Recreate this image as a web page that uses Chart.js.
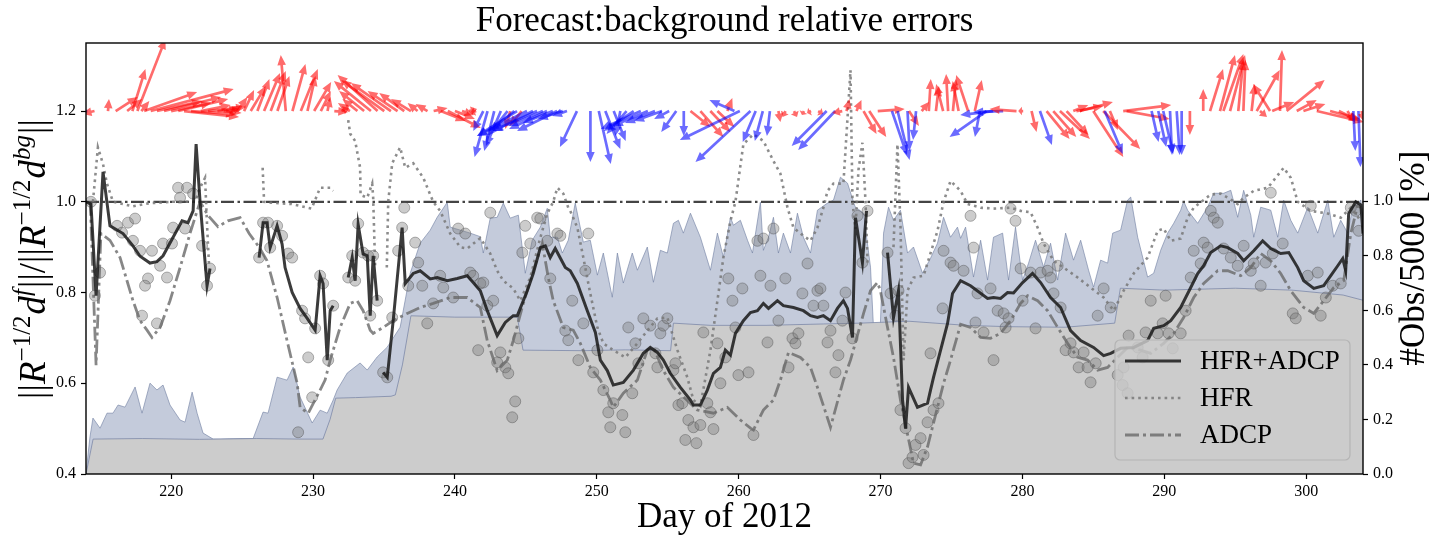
<!DOCTYPE html>
<html>
<head>
<meta charset="utf-8">
<title>Forecast:background relative errors</title>
<script src="https://cdn.jsdelivr.net/npm/chart.js@4.4.1/dist/chart.umd.min.js"></script>
<style>
  html, body { margin: 0; padding: 0; background: #fff; }
  canvas { display: block; }
</style>
</head>
<body>
<canvas id="errChart" width="1429" height="537"></canvas>
<script>
// ---- axes / ticks ----
const dayTicks = [220, 230, 240, 250, 260, 270, 280, 290, 300];
const errTicks = [0.4, 0.6, 0.8, 1.0, 1.2];
const obsTicks = [0.0, 0.2, 0.4, 0.6, 0.8, 1.0];
const refLevel = 1.0;     // forecast == background
const quiverLevel = 1.2;  // baseline of the current arrows

// ---- relative error, HFR+ADCP (null = no analysis) ----
const comboDay = [214.0,214.35,214.71,215.2,215.69,216.61,217.31,217.81,218.51,219.0,219.43,220.14,220.77,221.19,221.55,221.76,222.04,222.53,222.74,224.5,
  226.2,226.48,226.76,226.98,227.47,227.82,228.03,228.53,229.09,229.59,230.15,230.5,230.71,231.0,231.21,231.42,231.9,
  232.48,232.76,232.97,233.18,233.53,233.82,234.03,234.24,234.52,234.7,
  234.94,235.23,235.65,236.28,236.5,237.06,237.55,238.26,238.75,239.46,240.16,240.87,241.29,241.79,242.28,242.98,243.55,244.11,244.4,245.1,245.52,246.02,246.37,246.72,247.07,247.78,248.13,248.63,249.33,249.9,250.25,250.74,251.16,251.87,252.58,253.28,253.77,254.27,254.69,255.18,255.89,256.6,256.81,257.3,257.79,258.22,258.71,259.06,259.42,259.77,260.33,260.83,261.32,261.74,262.1,262.73,263.15,263.86,264.56,265.06,265.55,265.97,266.47,266.96,267.38,267.67,268.02,268.23,268.72,269.01,269.8,
  270.49,270.91,271.26,271.55,271.76,271.97,272.6,273.31,273.52,273.73,274.23,274.72,275.07,275.64,276.34,277.54,277.96,278.46,278.95,279.37,280.01,280.71,281.28,281.98,282.69,283.39,284.1,285.01,285.72,286.22,286.92,287.84,288.82,289.25,289.95,290.45,291.15,291.86,292.35,292.77,293.27,293.97,294.47,295.17,295.59,296.3,296.93,297.5,298.2,298.77,299.4,299.82,300.53,301.23,301.73,302.22,302.57,302.78,302.99,303.49,303.85,304.0];
const comboErr = [1.0,0.995,0.793,1.066,0.947,0.93,0.903,0.88,0.865,0.868,0.881,0.922,0.958,0.954,0.98,1.127,1.0,0.815,0.853,null,
  0.877,0.954,0.954,0.899,0.947,0.907,0.855,0.8,0.765,0.743,0.717,0.837,0.82,0.651,0.76,0.771,null,
  0.833,0.877,0.826,0.95,0.885,0.881,0.749,0.881,0.782,null,
  0.624,0.613,0.738,0.943,0.82,0.842,0.848,0.83,0.833,0.826,0.831,0.837,0.822,0.804,0.76,0.705,0.734,0.749,0.749,0.804,0.842,0.899,0.903,0.877,0.897,0.855,0.848,0.82,0.76,0.712,0.651,0.628,0.596,0.602,0.629,0.666,0.679,0.668,0.651,0.622,0.591,0.563,0.552,0.552,0.585,0.622,0.635,0.673,0.662,0.71,0.738,0.756,0.76,0.776,0.765,0.782,0.771,0.767,0.76,0.749,0.745,0.749,0.738,0.765,0.782,0.765,0.701,0.965,0.866,0.98,null,
  0.888,0.745,0.804,0.563,0.5,0.591,0.547,0.556,0.585,0.613,0.673,0.732,0.798,0.826,0.815,0.787,0.789,0.787,0.8,0.799,0.822,0.842,0.822,0.789,0.767,0.716,0.694,0.679,0.661,0.666,0.677,0.679,0.694,0.721,0.727,0.738,0.767,0.811,0.842,0.859,0.888,0.903,0.899,0.886,0.87,0.892,0.914,0.897,0.886,0.888,0.855,0.826,0.809,0.815,0.837,0.859,0.875,0.848,0.974,1.0,0.993,0.93];

// ---- relative error, HFR only ----
const hfrDay = [214.49,214.84,215.2,215.48,215.9,216.61,217.31,218.5,220.14,221.69,222.04,222.39,222.53,222.67,224.0,
  226.45,226.55,227.0,228.5,229.9,230.5,231.21,231.42,232.0,
  232.48,232.62,232.97,233.32,233.35,233.82,234.17,234.24,234.38,234.8,
  235.2,235.3,235.58,236.14,236.5,237.06,237.77,238.47,238.96,239.67,240.38,240.87,241.79,242.49,242.98,243.41,244.11,244.61,245.31,246.02,246.51,246.93,247.22,247.64,247.99,248.13,248.63,249.05,249.54,250.04,250.46,251.16,252.01,252.86,253.56,254.27,254.97,255.68,256.38,256.81,257.3,258.01,258.5,258.92,259.42,259.77,260.33,261.04,261.74,262.45,262.94,263.44,263.86,264.56,265.06,265.55,265.97,266.26,266.68,267.38,267.88,268.02,268.23,268.44,268.72,268.94,269.08,270.0,
  270.91,271.19,271.4,271.62,271.9,272.32,273.03,274.01,274.44,274.93,275.64,276.13,277.05,277.96,279.16,279.87,280.57,281.07,281.49,282.19,282.9,283.89,284.8,285.72,286.43,287.13,287.84,288.82,289.53,289.95,290.45,291.15,291.64,292.07,293.27,293.97,294.47,295.17,295.59,296.3,297.29,298.41,298.91,299.4,300.32,301.52,302.43,303.14,303.85];
const hfrErr = [1.0,1.12,1.083,1.04,1.0,0.995,0.99,0.997,1.0,1.0,1.031,1.053,0.95,0.86,null,
  1.075,1.0,0.998,0.995,0.985,1.031,1.031,1.024,null,
  1.18,1.15,1.134,1.075,1.015,1.009,1.04,1.009,0.855,null,
  0.855,1.0,1.085,1.12,1.075,1.085,1.053,1.0,0.98,0.93,0.9,0.897,0.92,0.886,0.848,0.826,0.809,0.782,0.833,0.921,0.974,1.0,1.031,1.018,0.987,0.98,0.943,0.877,0.798,0.723,0.688,0.673,0.657,0.688,0.716,0.743,0.745,0.673,0.613,0.563,0.55,0.673,0.782,0.877,0.958,1.0,1.127,1.149,1.134,1.09,1.062,0.987,0.943,0.925,0.914,0.943,0.987,1.024,1.04,1.04,1.29,1.0,0.94,1.07,1.13,1.0,0.866,null,
  0.9,1.127,0.95,0.651,0.804,0.833,0.837,0.936,1.0,1.046,1.024,0.995,0.987,0.985,0.987,0.98,0.977,0.943,0.908,0.87,0.855,0.833,0.811,0.789,0.76,0.804,0.842,0.877,0.936,0.941,0.914,0.919,0.965,0.987,1.016,1.018,1.009,0.995,1.009,1.024,1.031,1.075,1.053,1.0,0.98,0.974,0.965,0.987,0.958];

// ---- relative error, ADCP only ----
const adcpDay = [214.3,214.71,215.05,215.69,216.4,216.89,217.31,217.81,218.3,218.65,219.22,219.92,220.63,221.33,221.83,222.04,222.6,223.3,224.0,224.86,225.5,226.2,226.76,227.47,228.17,228.88,229.09,229.66,230.5,230.85,231.21,231.91,232.62,233.11,233.53,234.03,234.24,234.94,235.65,236.64,237.55,238.47,239.67,240.87,241.79,242.28,242.98,243.69,244.11,244.82,245.52,246.16,246.58,246.93,247.64,248.34,248.84,249.54,250.25,250.95,251.16,251.87,252.86,253.56,253.99,254.69,255.4,257.09,258.22,259.2,260.12,260.83,261.04,261.74,262.45,262.94,263.51,264.35,265.06,265.55,266.47,267.38,267.88,268.8,269.29,269.78,269.99,270.49,270.91,271.4,272.32,272.82,273.31,274.01,274.44,274.93,275.64,276.34,277.05,277.75,278.46,279.16,279.87,280.36,281.07,281.77,282.48,283.18,283.89,284.59,285.3,286.0,286.71,287.41,288.33,289.04,289.95,290.66,291.36,292.07,292.77,293.76,294.47,295.38,296.09,296.79,297.5,298.2,298.91,299.82,300.53,301.23,301.94,302.64,303.14,303.63,303.85];
const adcpErr = [1.0,0.64,0.93,0.915,0.877,0.826,0.782,0.738,0.717,0.701,0.723,0.782,0.855,0.93,0.98,1.0,0.97,0.945,0.958,0.965,0.93,0.9,0.87,0.789,0.694,0.6,0.547,0.534,0.585,0.607,0.651,0.723,0.776,0.782,0.76,0.717,0.71,0.723,0.738,0.754,0.767,0.776,0.789,0.789,0.767,0.694,0.628,0.651,0.694,0.776,0.848,0.908,0.833,0.782,0.723,0.717,0.688,0.635,0.607,0.563,0.547,0.578,0.607,0.673,0.679,0.628,0.591,0.541,0.534,0.547,0.519,0.501,0.497,0.541,0.563,0.607,0.668,0.657,0.635,0.591,0.503,0.607,0.651,0.754,0.804,0.822,0.804,0.723,0.657,0.563,0.424,0.42,0.46,0.547,0.6,0.651,0.73,0.723,0.701,0.699,0.71,0.738,0.776,0.793,0.782,0.76,0.723,0.688,0.657,0.651,0.629,0.635,0.657,0.679,0.673,0.666,0.688,0.71,0.745,0.789,0.82,0.848,0.848,0.837,0.855,0.886,0.87,0.842,0.804,0.767,0.754,0.782,0.811,0.826,0.93,0.993,0.987];

// ---- individual analysis cycles (scatter) ----
const dotDay = [214.35,214.63,214.99,216.19,216.54,216.96,217.46,217.31,217.81,218.65,219.22,219.43,220.06,220.14,220.98,218.37,218.16,219.71,217.95,219.0,222.18,222.53,222.74,220.49,221.12,220.63,221.55,
  226.2,226.48,226.83,226.98,227.47,227.82,228.25,228.53,229.23,229.44,229.66,230.15,230.5,230.71,231.07,231.42,228.95,229.94,
  232.48,232.76,232.97,233.18,233.53,233.89,234.03,234.24,234.52,234.94,235.23,235.58,236.0,236.28,236.43,237.2,237.41,236.71,237.7,238.05,238.47,238.96,239.18,239.88,240.23,240.73,241.08,241.29,241.79,241.64,
  242.49,242.0,242.7,242.28,244.96,245.31,244.75,245.8,246.02,247.22,247.43,246.72,246.51,248.27,249.19,249.4,249.05,247.78,247.99,244.47,243.2,242.98,243.55,243.76,248.7,249.75,250.04,250.46,
  252.22,252.72,253.28,253.77,254.48,254.69,254.97,254.13,252.93,254.27,255.4,255.54,257.51,258.5,259.06,259.98,260.69,258.71,259.27,259.56,260.26,259.77,261.32,261.74,261.53,262.24,263.29,262.45,262.03,262.8,263.51,263.79,264.0,264.21,264.49,264.85,265.27,265.55,265.76,265.97,266.26,266.47,267.03,266.82,267.31,267.53,268.02,268.37,269.08,268.72,
  270.49,270.7,271.05,271.26,273.52,274.44,274.93,275.14,274.37,
  244.04,244.25,250.81,251.16,251.8,250.95,252.01,252.5,255.75,256.03,256.45,256.81,257.3,256.24,257.02,257.79,258.01,258.22,261.04,
  271.4,271.76,271.97,272.25,272.46,272.82,273.03,273.31,273.73,274.08,
  276.34,276.55,275.85,276.83,277.75,278.25,278.67,279.02,276.69,277.26,277.96,278.81,279.51,279.87,280.01,280.57,280.92,281.28,281.49,281.77,281.98,282.19,282.48,282.69,283.04,283.39,283.6,283.96,284.31,284.59,284.8,285.16,285.3,285.72,286.22,286.71,287.06,287.41,287.13,287.48,288.12,288.47,288.68,289.04,289.53,289.88,290.09,290.3,290.59,291.15,291.5,291.86,292.07,292.56,292.77,293.05,293.27,293.48,293.76,294.18,294.68,295.17,295.59,296.09,296.3,296.79,297.14,297.64,298.34,299.05,299.26,300.11,300.81,301.02,301.38,301.87,302.43,300.32,303.14,303.49,303.7,279.16,297.5];
const dotErr = [1.0,0.793,0.844,0.947,0.932,0.954,0.963,0.914,0.892,0.892,0.859,0.908,0.908,0.943,0.941,0.831,0.815,0.833,0.749,0.732,0.903,0.815,0.853,1.031,1.031,1.009,1.018,
  0.877,0.954,0.954,0.899,0.947,0.925,0.886,0.877,0.76,0.743,0.657,0.721,0.837,0.82,0.651,0.771,0.492,0.569,
  0.833,0.881,0.826,0.952,0.888,0.881,0.749,0.881,0.782,0.624,0.613,0.745,0.892,0.943,0.987,0.91,0.866,0.815,0.815,0.732,0.776,0.837,0.811,0.789,0.941,0.93,0.844,0.837,0.82,0.673,
  0.976,0.822,0.782,0.771,0.947,0.908,0.888,0.965,0.963,0.93,0.925,0.831,0.914,0.782,0.848,0.93,0.732,0.716,0.695,0.699,0.668,0.646,0.635,0.622,0.651,0.624,0.673,0.585,
  0.723,0.688,0.743,0.727,0.71,0.727,0.743,0.666,0.644,0.635,0.629,0.644,0.712,0.688,0.657,0.618,0.624,0.6,0.831,0.782,0.809,0.723,0.914,0.919,0.837,0.815,0.831,0.941,0.69,0.738,0.635,0.699,0.688,0.71,0.798,0.864,0.771,0.804,0.809,0.771,0.69,0.716,0.662,0.624,0.738,0.8,0.699,0.969,0.98,0.866,
  0.888,0.798,0.749,0.804,0.666,0.892,0.866,0.859,0.765,
  0.525,0.56,0.536,0.556,0.53,0.503,0.492,0.578,0.552,0.556,0.519,0.503,0.508,0.475,0.468,0.556,0.536,0.499,0.486,
  0.541,0.501,0.424,0.437,0.464,0.479,0.442,0.514,0.541,0.556,
  0.969,0.899,0.848,0.798,0.809,0.76,0.754,0.743,0.734,0.712,0.651,0.723,0.958,0.853,0.782,0.844,0.721,0.844,0.899,0.848,0.833,0.798,0.859,0.767,0.673,0.688,0.668,0.635,0.668,0.635,0.602,0.644,0.749,0.809,0.767,0.618,0.596,0.578,0.635,0.705,0.679,0.657,0.712,0.782,0.71,0.732,0.793,0.71,0.677,0.71,0.76,0.833,0.892,0.864,0.91,0.899,0.98,0.965,0.954,0.897,0.877,0.859,0.903,0.848,0.864,0.815,0.866,0.886,0.908,0.754,0.743,0.837,0.844,0.749,0.789,0.815,0.82,0.991,0.987,0.98,0.936,0.985,1.02];

// ---- number of observations / 5000 (right axis) ----
const obsAllDay = [214.0,214.28,214.49,214.99,215.48,215.9,216.26,216.75,217.46,217.95,218.51,219.0,219.43,219.92,220.63,220.98,221.48,221.83,222.25,222.96,223.5,225.0,225.78,226.48,226.83,227.47,228.17,228.6,229.09,229.94,230.5,231.0,231.42,231.7,232.41,233.32,233.82,234.52,235.23,236.14,236.85,237.55,238.26,238.75,239.46,239.67,240.38,241.08,241.79,242.0,242.49,242.98,243.41,243.9,244.47,244.96,245.45,246.02,246.51,246.72,247.22,247.57,247.99,248.48,249.05,249.54,250.04,250.46,251.09,251.45,251.87,252.5,252.86,253.56,253.99,254.48,254.97,255.4,255.75,256.1,256.6,257.3,258.01,258.5,258.92,259.42,259.63,260.12,260.62,260.97,261.53,261.74,262.1,262.45,262.8,263.15,263.65,264.14,264.56,265.06,265.55,266.26,266.68,267.17,267.67,268.2,268.8,269.29,269.5,269.99,270.21,270.56,270.91,271.4,271.9,272.32,272.96,273.52,274.01,274.44,274.93,275.42,275.64,275.99,276.55,277.05,277.54,277.96,278.6,279.02,279.51,280.01,280.43,280.92,281.49,281.98,282.48,283.04,283.6,284.1,284.66,285.01,285.51,286.0,286.36,286.92,287.41,287.63,288.12,288.82,289.25,289.74,290.23,290.66,291.15,291.36,291.64,292.35,293.05,293.48,294.18,294.68,295.17,295.59,296.09,296.3,296.79,297.5,297.99,298.41,298.91,299.4,300.11,300.81,301.52,301.94,302.43,302.92,303.28,303.85,304.0];
const obsAll = [0.004,0.136,0.205,0.168,0.223,0.223,0.253,0.245,0.319,0.223,0.333,0.308,0.326,0.253,0.198,0.19,0.3,0.223,0.15,0.128,0.128,0.13,0.13,0.227,0.223,0.355,0.344,0.392,0.282,0.187,0.234,0.223,0.271,0.308,0.37,0.407,0.381,0.429,0.465,0.538,0.736,0.846,0.894,0.941,0.996,0.905,0.894,0.883,0.87,0.81,0.938,0.941,0.993,0.938,0.949,0.736,0.857,0.905,0.974,0.868,0.868,0.81,0.857,0.993,0.85,0.857,0.729,0.81,0.648,0.81,0.7,0.81,0.747,0.832,0.703,0.82,0.81,0.919,0.93,0.883,0.956,0.868,0.747,0.883,0.795,0.941,0.912,0.93,0.857,0.81,0.996,0.82,0.868,0.941,0.81,0.883,0.81,0.956,0.868,0.81,0.967,0.993,1.004,1.088,1.066,0.98,0.956,0.758,0.538,0.553,0.883,0.978,0.93,0.967,0.81,0.832,0.736,0.791,0.846,0.941,0.868,0.905,0.864,0.905,0.722,0.857,0.711,0.868,0.883,0.711,0.905,0.711,0.773,0.857,0.758,0.846,0.711,0.883,0.784,0.857,0.747,0.685,0.784,0.773,0.883,0.894,1.004,1.015,0.868,0.722,0.736,0.82,0.883,0.919,0.967,1.0,0.967,0.919,0.978,1.029,1.029,1.04,0.941,1.04,0.949,0.868,0.978,0.967,0.868,1.004,0.93,0.883,0.978,0.883,1.004,0.868,0.93,0.883,0.978,1.004,0.905];
const obsLowDay = [214.0,214.5,218.0,222.0,226.0,229.0,230.7,231.2,231.6,233.0,235.5,235.8,236.3,236.9,240.0,244.4,244.8,249.0,252.0,255.2,255.4,258.0,262.0,266.0,268.5,272.0,276.0,279.0,283.0,286.5,286.9,290.0,295.0,299.0,302.6,304.0];
const obsLow = [0.0,0.128,0.13,0.127,0.13,0.128,0.128,0.2,0.278,0.28,0.285,0.29,0.4,0.58,0.575,0.575,0.454,0.452,0.455,0.452,0.553,0.545,0.545,0.55,0.553,0.56,0.545,0.54,0.538,0.553,0.681,0.674,0.681,0.674,0.656,0.637];

// ---- surface current arrows (u east, v north; group a/b) ----
const arrowDay = [214.1,214.6,215.55,216.09,216.9,217.27,217.62,217.9,218.1,218.56,219.0,219.5,220.0,220.5,220.91,221.4,222.09,222.6,223.26,223.7,224.2,224.67,225.14,225.61,226.08,226.55,227.02,227.49,228.08,228.55,229.14,229.61,230.08,230.55,231.02,231.5,232.0,232.6,233.13,233.6,234.08,234.55,235.02,235.49,235.96,236.43,236.9,237.37,238.07,238.5,239.0,239.5,240.0,240.5,241.0,241.5,
  242.0,242.3,242.77,243.24,243.71,243.9,244.18,244.38,244.7,245.08,245.5,245.79,246.2,246.49,246.9,247.2,247.6,247.9,248.6,249.55,250.14,250.6,251.19,251.66,252.1,252.6,253.1,253.6,254.1,254.6,255.1,255.6,256.13,256.6,257.3,258.0,258.5,259.2,259.7,260.08,260.83,261.2,261.7,262.2,262.8,263.3,263.9,264.6,265.1,265.6,266.2,266.8,267.3,267.6,268.3,268.8,269.2,269.8,
  270.8,271.2,271.9,272.0,272.5,272.9,273.4,273.9,274.41,274.76,275.1,275.5,276.17,276.64,277.0,277.47,277.94,278.64,279.58,280.05,280.64,281.23,281.7,282.17,282.64,283.11,283.58,283.8,284.05,284.99,285.69,285.8,286.16,287.1,287.34,289.1,289.57,289.92,290.4,290.87,291.22,291.8,
  292.74,293.22,293.92,294.16,294.63,295.21,295.57,296.15,296.51,296.74,297.45,297.6,298.15,298.62,299.33,299.8,300.74,301.68,302.3,302.9,303.32,303.68,303.9];
const arrowU = [-9,-13,1,22,15,13,28,8,53,83,45,57,40,50,55,45,30,38,22,18,10,10,10,15,12,16,15,12,-5,13,17,8,17,10,3,14,8,-12,-15,-25,-37,-40,-43,-40,-30,-25,-20,-10,-12,14,25,33,20,12,8,-6,
  -10,-13,-10,-15,-20,-5,-25,-40,-12,-50,-40,-45,-35,-38,-30,-40,-25,-15,-17,0,12,15,12,-5,-20,-30,-40,-35,-30,-28,-15,-15,0,20,23,20,17,5,-25,-60,-55,-13,-8,-3,2,-3,3,-2,-4,5,-35,-37,-10,3,5,13,17,27,
  15,12,2,10,-3,7,2,3,-7,-2,3,-6,-12,7,-5,-37,-33,-30,-27,-5,5,12,23,23,30,22,15,27,33,30,37,18,8,48,43,7,8,10,2,3,0,0,
  0,13,15,20,15,5,2,3,23,7,-17,22,2,38,20,22,47,30,20,8,2,2,2];
const arrowV = [0,-3,12,14,12,42,72,10,19,22,10,14,8,12,-6,-3,6,4,2,-2,5,14,21,25,32,38,40,35,56,47,42,35,29,20,14,-1,3,8,12,20,30,36,31,28,20,18,12,8,7,3,-10,-17,-8,-4,2,-2,
  -20,-46,-40,-35,-25,-18,-20,-25,-15,-25,-20,-20,-15,-18,-12,-20,-8,-5,-36,-51,-53,-38,-30,-25,-23,-20,-18,-15,-12,-10,-8,-21,-25,-16,-26,-21,-16,13,11,-29,-51,-31,-30,-25,-11,-6,-6,-4,-2,-3,-35,-39,-2,12,11,-23,-26,2,
  -44,-49,-40,-15,-29,9,32,25,27,37,32,30,36,31,-26,-26,-4,-1,2,0,-21,-34,-28,-26,-28,-24,6,5,9,-46,-38,-43,-19,6,-8,-31,-36,-43,-44,-44,-44,-24,
  22,42,56,57,56,51,51,27,41,-6,27,9,61,31,11,7,-11,-8,-10,-12,-40,-56,-10];
const arrowGroup = ['b','a','a','a','a','a','a','a','a','a','a','a','a','a','a','a','a','a','a','a','a','a','a','a','a','a','a','a','a','a','a','a','a','a','a','a','a','a','a','a','a','a','a','a','a','a','a','a','a','a','a','a','a','a','a','a',
  'b','b','b','b','b','a','b','b','a','b','b','b','b','b','b','b','b','b','b','b','b','b','b','b','b','b','b','b','b','b','b','b','b','a','a','a','a','a','b','b','b','b','b','b','a','a','a','a','a','a','b','b','a','a','a','a','a','a',
  'b','b','b','a','b','a','a','a','a','a','a','a','a','a','b','b','b','b','a','a','a','b','a','a','a','a','a','a','a','a','a','b','a','a','a','b','b','b','b','b','b','a',
  'a','a','a','a','a','a','a','a','a','a','a','a','a','a','a','a','a','a','a','a','b','b','a'];

const SERIF = '"Liberation Serif", "Times New Roman", serif';
const pts = (xs, ys) => xs.map((x, i) => ({ x: x, y: ys[i] }));

const styleCombo = { color: 'rgba(25,25,25,0.85)', width: 3, dash: [] };
const styleHfr = { color: 'rgba(120,120,120,0.85)', width: 2.6, dash: [2.6, 4] };
const styleAdcp = { color: 'rgba(105,105,105,0.8)', width: 2.8, dash: [14, 4, 3, 4] };

// arrows at y = 1.2, drawn in screen pixels (1 px per unit)
const quiverArrows = {
  id: 'quiverArrows',
  afterDatasetsDraw(chart) {
    const { ctx, chartArea: a, scales } = chart;
    const y0 = scales.y.getPixelForValue(quiverLevel);
    const colors = { a: 'rgba(255,0,0,0.58)', b: 'rgba(0,0,255,0.58)' };
    ctx.save();
    ctx.beginPath();
    ctx.rect(a.left, a.top, a.right - a.left, a.bottom - a.top);
    ctx.clip();
    arrowDay.forEach((d, i) => {
      const x0 = scales.x.getPixelForValue(d);
      const dx = arrowU[i], dy = -arrowV[i];
      const len = Math.hypot(dx, dy);
      if (len < 0.5) return;
      const ux = dx / len, uy = dy / len, px = -uy, py = ux;
      const hl = Math.min(10, len * 0.75), hw = 4.3, sw = 1.35;
      const bx = x0 + ux * (len - hl), by = y0 + uy * (len - hl);
      ctx.beginPath();
      ctx.moveTo(x0 + px * sw, y0 + py * sw);
      ctx.lineTo(bx + px * sw, by + py * sw);
      ctx.lineTo(bx + px * hw, by + py * hw);
      ctx.lineTo(x0 + dx, y0 + dy);
      ctx.lineTo(bx - px * hw, by - py * hw);
      ctx.lineTo(bx - px * sw, by - py * sw);
      ctx.lineTo(x0 - px * sw, y0 - py * sw);
      ctx.closePath();
      ctx.fillStyle = colors[arrowGroup[i]];
      ctx.fill();
    });
    ctx.restore();
  }
};

// axes frame + legend box
const frameAndLegend = {
  id: 'frameAndLegend',
  afterDatasetsDraw(chart) {
    const { ctx, chartArea: a } = chart;
    ctx.save();
    ctx.strokeStyle = '#000';
    ctx.lineWidth = 1.4;
    ctx.strokeRect(a.left, a.top, a.right - a.left, a.bottom - a.top);

    // legend
    const bx = 1115, by = 340, bw = 235, bh = 120, r = 5;
    ctx.beginPath();
    ctx.roundRect(bx, by, bw, bh, r);
    ctx.fillStyle = 'rgba(204,204,204,0.82)';
    ctx.fill();
    ctx.lineWidth = 1.2;
    ctx.strokeStyle = '#b4b4b4';
    ctx.stroke();
    const rows = [['HFR+ADCP', styleCombo], ['HFR', styleHfr], ['ADCP', styleAdcp]];
    ctx.font = '27px ' + SERIF;
    ctx.textBaseline = 'middle';
    ctx.fillStyle = '#000';
    rows.forEach((row, i) => {
      const y = 361 + i * 37;
      const s = row[1];
      ctx.beginPath();
      ctx.setLineDash(s.dash);
      ctx.lineWidth = s.width;
      ctx.strokeStyle = s.color;
      ctx.moveTo(1125, y);
      ctx.lineTo(1181, y);
      ctx.stroke();
      ctx.setLineDash([]);
      ctx.fillText(row[0], 1200, y + 1);
    });
    ctx.restore();
  }
};

// rotated axis labels (left one carries super-scripts)
const sideLabels = {
  id: 'sideLabels',
  afterDraw(chart) {
    const { ctx } = chart;
    const big = 37, small = 25, rise = 15;
    const runs = [
      { t: '||', s: big, st: '', up: 0 },
      { t: 'R', s: big, st: 'italic ', up: 0 },
      { t: '\u22121/2', s: small, st: '', up: rise },
      { t: 'd', s: big, st: 'italic ', up: 0 },
      { t: 'f', s: small, st: 'italic ', up: rise },
      { t: '||', s: big, st: '', up: 0 },
      { t: '/', s: big, st: '', up: 0 },
      { t: '||', s: big, st: '', up: 0 },
      { t: 'R', s: big, st: 'italic ', up: 0 },
      { t: '\u22121/2', s: small, st: '', up: rise },
      { t: 'd', s: big, st: 'italic ', up: 0 },
      { t: 'bg', s: small, st: 'italic ', up: rise },
      { t: '||', s: big, st: '', up: 0 }
    ];
    ctx.save();
    let total = 0;
    runs.forEach(r => {
      ctx.font = r.st + r.s + 'px ' + SERIF;
      r.w = ctx.measureText(r.t).width + (r.up ? 1 : 0);
      total += r.w;
    });
    ctx.fillStyle = '#000';
    ctx.textBaseline = 'alphabetic';
    ctx.translate(45, 259);
    ctx.rotate(-Math.PI / 2);
    let x = -total / 2;
    runs.forEach(r => {
      ctx.font = r.st + r.s + 'px ' + SERIF;
      ctx.fillText(r.t, x, -r.up);
      x += r.w;
    });
    ctx.restore();

    ctx.save();
    ctx.fillStyle = '#000';
    ctx.font = '35px ' + SERIF;
    ctx.textAlign = 'center';
    ctx.textBaseline = 'alphabetic';
    ctx.translate(1424, 258);
    ctx.rotate(-Math.PI / 2);
    ctx.fillText('#Obs/5000 [%]', 0, 0);
    ctx.restore();
  }
};

const tickFont = { family: SERIF, size: 16 };
const tickGrid = { display: true, drawOnChartArea: false, drawTicks: true, tickLength: 5, tickColor: '#000', tickWidth: 1.2 };

new Chart(document.getElementById('errChart'), {
  type: 'scatter',
  data: {
    datasets: [
      { label: 'HFR+ADCP', data: pts(comboDay, comboErr), showLine: true, spanGaps: false,
        borderColor: styleCombo.color, borderWidth: styleCombo.width, pointRadius: 0, order: 1, yAxisID: 'y' },
      { label: 'HFR', data: pts(hfrDay, hfrErr), showLine: true, spanGaps: false,
        borderColor: styleHfr.color, borderWidth: styleHfr.width, borderDash: styleHfr.dash, pointRadius: 0, order: 2, yAxisID: 'y' },
      { label: 'ADCP', data: pts(adcpDay, adcpErr), showLine: true, spanGaps: false,
        borderColor: styleAdcp.color, borderWidth: styleAdcp.width, borderDash: styleAdcp.dash, pointRadius: 0, order: 3, yAxisID: 'y' },
      { label: 'cycles', data: pts(dotDay, dotErr), showLine: false,
        pointRadius: 5.5, pointBackgroundColor: 'rgba(120,120,120,0.38)', pointBorderColor: 'rgba(70,70,70,0.4)', pointBorderWidth: 1, order: 4, yAxisID: 'y' },
      { label: 'reference', data: [{ x: 214, y: refLevel }, { x: 304, y: refLevel }], showLine: true,
        borderColor: '#444', borderWidth: 2.2, borderDash: [13, 3.5, 2.5, 3.5], pointRadius: 0, order: 5, yAxisID: 'y' },
      { label: 'obs HFR+ADCP', data: pts(obsLowDay, obsLow), showLine: true, fill: 'origin',
        backgroundColor: '#cccccc', borderColor: 'rgba(120,132,165,0.75)', borderWidth: 1, pointRadius: 0, order: 6, yAxisID: 'y2' },
      { label: 'obs all', data: pts(obsAllDay, obsAll), showLine: true, fill: 'origin',
        backgroundColor: 'rgba(115,130,170,0.42)', borderColor: 'rgba(110,125,160,0.6)', borderWidth: 1, pointRadius: 0, order: 7, yAxisID: 'y2' }
    ]
  },
  options: {
    responsive: false,
    animation: false,
    devicePixelRatio: 1,
    layout: { padding: 0 },
    plugins: {
      legend: { display: false },
      tooltip: { enabled: false },
      title: {
        display: true, fullSize: false,
        text: 'Forecast:background relative errors',
        color: '#000',
        font: { family: SERIF, size: 35, weight: 'normal', lineHeight: 1.2 },
        padding: { top: 1, bottom: 0 }
      }
    },
    scales: {
      x: {
        type: 'linear', position: 'bottom', min: 214, max: 304,
        afterBuildTicks: s => { s.ticks = dayTicks.map(v => ({ value: v })); },
        afterFit: s => { s.height = 63; },
        ticks: { font: tickFont, color: '#000', padding: 3, maxRotation: 0, autoSkip: false, callback: v => String(v) },
        grid: tickGrid,
        border: { display: false },
        title: { display: true, text: 'Day of 2012', color: '#000', font: { family: SERIF, size: 35, lineHeight: 1.1 }, padding: { top: 0, bottom: 0 } }
      },
      y: {
        type: 'linear', position: 'left', min: 0.4, max: 1.35,
        afterBuildTicks: s => { s.ticks = errTicks.map(v => ({ value: v })); },
        afterFit: s => { s.width = 86; },
        ticks: { font: tickFont, color: '#000', padding: 5, callback: v => v.toFixed(1) },
        grid: tickGrid,
        border: { display: false }
      },
      y2: {
        type: 'linear', position: 'right', min: 0, max: 1.58,
        afterBuildTicks: s => { s.ticks = obsTicks.map(v => ({ value: v })); },
        afterFit: s => { s.width = 66; },
        ticks: { font: tickFont, color: '#000', padding: 5, callback: v => v.toFixed(1) },
        grid: tickGrid,
        border: { display: false }
      }
    }
  },
  plugins: [quiverArrows, frameAndLegend, sideLabels]
});
</script>
</body>
</html>
